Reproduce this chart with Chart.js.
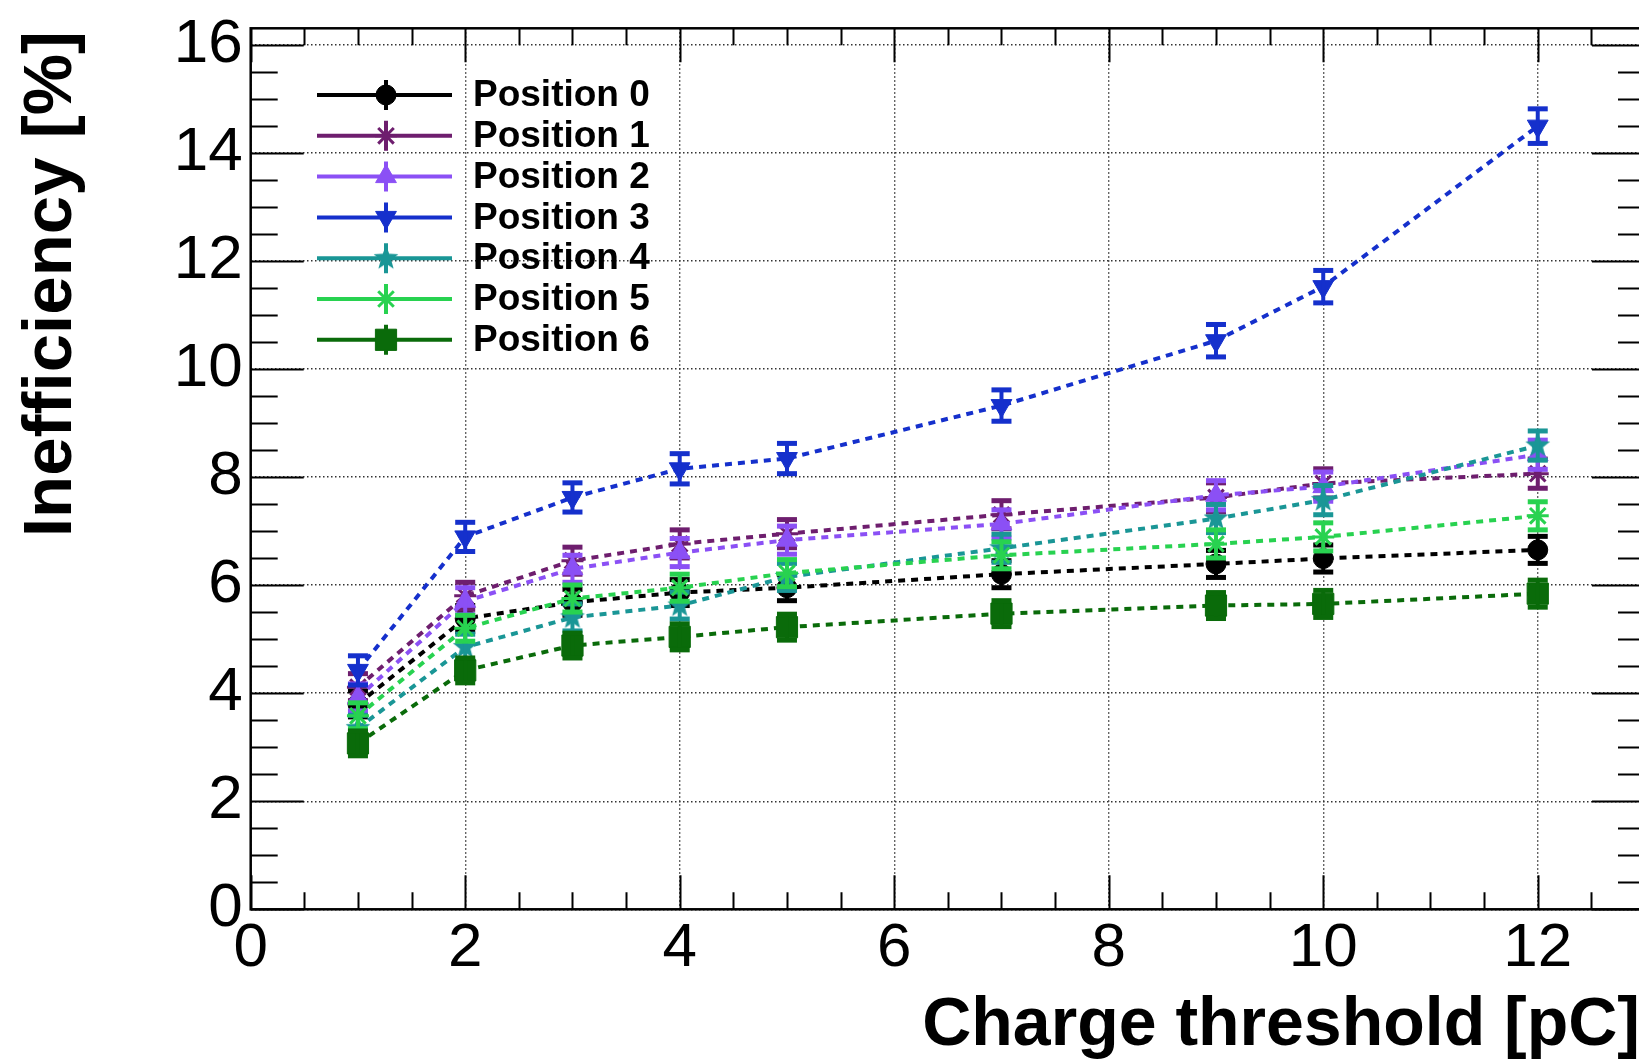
<!DOCTYPE html>
<html>
<head>
<meta charset="utf-8">
<script src="https://cdn.jsdelivr.net/npm/chart.js@4.4.1/dist/chart.umd.min.js"></script>
<style>
html,body{margin:0;padding:0;background:#ffffff;overflow:hidden;}
canvas{display:block;}
</style>
</head>
<body>
<canvas id="c" width="1645" height="1061"></canvas>
<script>
// ---------------- data ----------------
const thresholds = [1, 2, 3, 4, 5, 7, 9, 10, 12];
const seriesNames = ['Position 0', 'Position 1', 'Position 2', 'Position 3', 'Position 4', 'Position 5', 'Position 6'];

const pos0 = [3.80, 5.38, 5.68, 5.86, 5.95, 6.20, 6.39, 6.49, 6.65];
const pos1 = [4.11, 5.80, 6.45, 6.76, 6.95, 7.30, 7.62, 7.88, 8.06];
const pos2 = [3.92, 5.70, 6.30, 6.60, 6.83, 7.13, 7.66, 7.82, 8.41];
const pos3 = [4.42, 6.89, 7.62, 8.15, 8.34, 9.32, 10.52, 11.52, 14.49];
const pos4 = [3.35, 4.85, 5.40, 5.62, 6.15, 6.68, 7.23, 7.57, 8.58];
const pos5 = [3.58, 5.20, 5.75, 5.95, 6.22, 6.55, 6.76, 6.89, 7.28];
const pos6 = [3.07, 4.42, 4.88, 5.04, 5.22, 5.47, 5.62, 5.65, 5.84];

const err0 = [0.24, 0.24, 0.24, 0.24, 0.24, 0.25, 0.25, 0.25, 0.25];
const err1 = [0.25, 0.25, 0.25, 0.26, 0.26, 0.26, 0.27, 0.27, 0.27];
const err2 = [0.25, 0.25, 0.25, 0.26, 0.26, 0.26, 0.27, 0.27, 0.27];
const err3 = [0.27, 0.27, 0.27, 0.28, 0.28, 0.29, 0.30, 0.30, 0.32];
const err4 = [0.24, 0.24, 0.25, 0.25, 0.25, 0.26, 0.26, 0.27, 0.27];
const err5 = [0.24, 0.24, 0.25, 0.25, 0.25, 0.25, 0.26, 0.26, 0.26];
const err6 = [0.23, 0.23, 0.23, 0.24, 0.24, 0.24, 0.24, 0.25, 0.25];

const xMin = 0, xMax = 13, xMajor = 2, xMinor = 0.5;
const yMin = 0, yMax = 16.3, yMajor = 2, yMinor = 0.5;
const xTitle = 'Charge threshold [pC]';
const yTitle = 'Inefficiency [%]';

// ---------------- styles ----------------
const colors = ['#000000', '#6e1e6e', '#8b50f5', '#1530cc', '#1a9696', '#28d250', '#0a6b0a'];

function makeStar(color, R) {
  const c = document.createElement('canvas');
  c.width = c.height = 2 * R + 2;
  const g = c.getContext('2d');
  g.fillStyle = color;
  g.beginPath();
  for (let k = 0; k < 10; k++) {
    const r = (k % 2) ? R * 0.42 : R;
    const a = -Math.PI / 2 + k * Math.PI / 5;
    g.lineTo(R + 1 + r * Math.cos(a), R + 1 + r * Math.sin(a));
  }
  g.closePath();
  g.fill();
  return c;
}
const tealStar = makeStar(colors[4], 13);

const markers = [
  {pointStyle: 'circle', radius: 10, rotation: 0, borderWidth: 1},
  {pointStyle: 'star', radius: 11, rotation: 0, borderWidth: 3},
  {pointStyle: 'triangle', radius: 12, rotation: 0, borderWidth: 1},
  {pointStyle: 'triangle', radius: 12, rotation: 180, borderWidth: 1},
  {pointStyle: tealStar, radius: 13, rotation: 0, borderWidth: 0},
  {pointStyle: 'star', radius: 11, rotation: 0, borderWidth: 3},
  {pointStyle: 'rect', radius: 15, rotation: 0, borderWidth: 1}
];

const values = [pos0, pos1, pos2, pos3, pos4, pos5, pos6];
const errors = [err0, err1, err2, err3, err4, err5, err6];

const datasets = values.map((vals, i) => ({
  label: seriesNames[i],
  data: vals.map((v, j) => ({x: thresholds[j], y: v})),
  errors: errors[i],
  borderColor: colors[i],
  backgroundColor: colors[i],
  pointBackgroundColor: colors[i],
  pointBorderColor: colors[i],
  pointStyle: markers[i].pointStyle,
  pointRadius: markers[i].radius,
  pointRotation: markers[i].rotation,
  pointBorderWidth: markers[i].borderWidth,
  pointHoverRadius: markers[i].radius,
  borderWidth: 4,
  borderDash: [7, 6],
  borderCapStyle: 'butt',
  tension: 0,
  fill: false,
  showLine: true,
  order: 6 - i
}));

const FONT = '"Liberation Sans", Arial, Helvetica, sans-serif';

// error bars drawn right after each dataset
const errorBarPlugin = {
  id: 'errorBars',
  afterDatasetDraw(chart, args) {
    const ds = chart.data.datasets[args.index];
    const ys = chart.scales.y, xs = chart.scales.x;
    const ctx = chart.ctx;
    ctx.save();
    ctx.strokeStyle = ds.borderColor;
    ctx.fillStyle = ds.borderColor;
    ctx.lineWidth = 4;
    ctx.setLineDash([]);
    ds.data.forEach((p, j) => {
      const e = ds.errors[j];
      const px = xs.getPixelForValue(p.x);
      const y1 = ys.getPixelForValue(p.y + e);
      const y2 = ys.getPixelForValue(p.y - e);
      ctx.beginPath();
      ctx.moveTo(px, y1);
      ctx.lineTo(px, y2);
      ctx.stroke();
      ctx.fillRect(px - 10, y1 - 2.5, 20, 5);
      ctx.fillRect(px - 10, y2 - 2.5, 20, 5);
    });
    ctx.restore();
  }
};

// frame, inner ticks, titles and legend
const framePlugin = {
  id: 'frame',
  afterDraw(chart) {
    const ctx = chart.ctx;
    const {left, right, top, bottom} = chart.chartArea;
    const xs = chart.scales.x, ys = chart.scales.y;
    ctx.save();
    ctx.strokeStyle = '#000';
    ctx.lineWidth = 2;
    ctx.setLineDash([]);
    ctx.beginPath();
    for (let v = xMin; v <= xMax + 1e-9; v += xMinor) {
      const px = Math.round(xs.getPixelForValue(v)) + 0.5;
      const major = Math.abs(v / xMajor - Math.round(v / xMajor)) < 1e-6;
      const len = major ? 34 : 17;
      ctx.moveTo(px, bottom); ctx.lineTo(px, bottom - len);
      ctx.moveTo(px, top); ctx.lineTo(px, top + len);
    }
    for (let v = yMin; v <= yMax + 1e-9; v += yMinor) {
      const py = Math.round(ys.getPixelForValue(v)) + 0.5;
      const major = Math.abs(v / yMajor - Math.round(v / yMajor)) < 1e-6;
      const len = major ? 53 : 27;
      ctx.moveTo(left, py); ctx.lineTo(left + len, py);
      ctx.moveTo(right, py); ctx.lineTo(right - len, py);
    }
    ctx.stroke();
    ctx.lineWidth = 2.5;
    ctx.strokeRect(left, top, right - left, bottom - top);

    // axis titles
    ctx.fillStyle = '#000';
    ctx.textAlign = 'right';
    ctx.textBaseline = 'alphabetic';
    ctx.font = 'bold 68px ' + FONT;
    ctx.fillText(xTitle, 1640, 1045);
    ctx.font = 'bold 69px ' + FONT;
    ctx.save();
    ctx.translate(71, 31);
    ctx.rotate(-Math.PI / 2);
    ctx.fillText(yTitle, 0, 0);
    ctx.restore();

    // legend
    const lx0 = 317, lx1 = 452, mx = 386, tx = 473, ly0 = 95, dy = 40.8;
    chart.data.datasets.forEach((ds, i) => {
      const y = ly0 + i * dy;
      ctx.strokeStyle = colors[i];
      ctx.fillStyle = colors[i];
      ctx.lineWidth = 4;
      ctx.beginPath();
      ctx.moveTo(lx0, y); ctx.lineTo(lx1, y);
      ctx.moveTo(mx, y - 15); ctx.lineTo(mx, y + 15);
      ctx.stroke();
      ctx.lineWidth = markers[i].borderWidth;
      Chart.helpers.drawPoint(ctx, {
        pointStyle: markers[i].pointStyle,
        radius: markers[i].radius,
        rotation: markers[i].rotation,
        borderWidth: markers[i].borderWidth
      }, mx, y);
      ctx.fillStyle = '#000';
      ctx.font = 'bold 37px ' + FONT;
      ctx.textAlign = 'left';
      ctx.textBaseline = 'middle';
      ctx.fillText(seriesNames[i], tx, y + 1);
    });
    ctx.restore();
  }
};

new Chart(document.getElementById('c'), {
  type: 'line',
  data: {datasets},
  options: {
    responsive: false,
    animation: false,
    events: [],
    layout: {autoPadding: false, padding: {top: 28.3, left: 0, right: 0, bottom: 0}},
    plugins: {legend: {display: false}, tooltip: {enabled: false}, title: {display: false}},
    scales: {
      x: {
        type: 'linear',
        min: xMin, max: xMax,
        afterFit(s) { s.height = 151.7; s.paddingLeft = 0; s.paddingRight = 0; },
        ticks: {stepSize: xMajor, includeBounds: false, padding: 2, color: '#000', maxRotation: 0,
                font: {family: FONT, size: 62}},
        grid: {display: true, drawTicks: false, color: '#333', lineWidth: 1.4},
        border: {display: false, dash: [1.5, 2.5]}
      },
      y: {
        type: 'linear',
        min: yMin, max: yMax,
        afterFit(s) { s.width = 250.7; s.paddingTop = 0; s.paddingBottom = 0; },
        ticks: {stepSize: yMajor, includeBounds: false, padding: 8, color: '#000',
                font: {family: FONT, size: 62}},
        grid: {display: true, drawTicks: false, color: '#333', lineWidth: 1.4},
        border: {display: false, dash: [1.5, 2.5]}
      }
    }
  },
  plugins: [errorBarPlugin, framePlugin]
});
</script>
</body>
</html>
